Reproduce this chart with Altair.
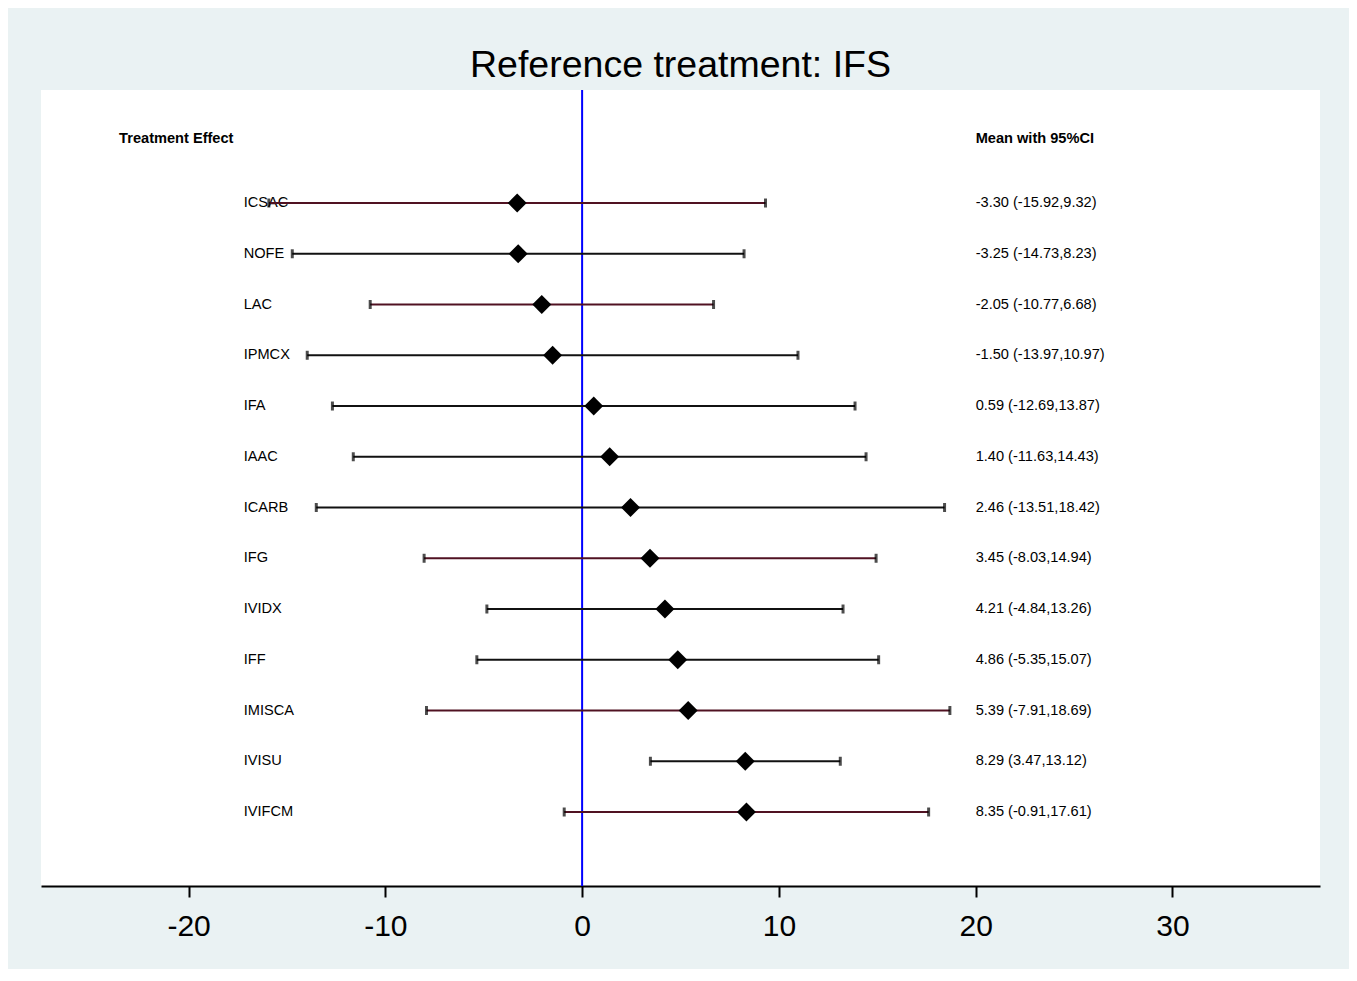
import altair as alt
import pandas as pd

names = ["ICSAC", "NOFE", "LAC", "IPMCX", "IFA", "IAAC", "ICARB",
         "IFG", "IVIDX", "IFF", "IMISCA", "IVISU", "IVIFCM"]
means = [-3.30, -3.25, -2.05, -1.50, 0.59, 1.40, 2.46, 3.45, 4.21, 4.86, 5.39, 8.29, 8.35]
lows = [-15.92, -14.73, -10.77, -13.97, -12.69, -11.63, -13.51, -8.03, -4.84, -5.35, -7.91, 3.47, -0.91]
highs = [9.32, 8.23, 6.68, 10.97, 13.87, 14.43, 18.42, 14.94, 13.26, 15.07, 18.69, 13.12, 17.61]
line_group = ["a", "b", "a", "b", "b", "b", "b", "a", "b", "b", "a", "b", "a"]
x_ticks = [-20, -10, 0, 10, 20, 30]
ref_value = [0]

FONT = "Liberation Sans"
TXT = 14.6

df = pd.DataFrame({
    "name": names,
    "mean": means,
    "lo": lows,
    "hi": highs,
    "grp": line_group,
    "row": list(range(1, len(names) + 1)),
})
df["label"] = [f"{m:.2f} ({l:.2f},{h:.2f})" for m, l, h in zip(means, lows, highs)]

xs = alt.Scale(domain=[-27.5, 37.5], nice=False, zero=False)
ys = alt.Scale(domain=[14.458, -1.227], nice=False, zero=False)
xaxis = alt.Axis(values=x_ticks, title=None, grid=False,
                 labelExpr="'' + datum.value")


def X(field):
    return alt.X(field, scale=xs, axis=xaxis)


def Y(field):
    return alt.Y(field, scale=ys, axis=None)


base = alt.Chart(df)

zero_line = alt.Chart(pd.DataFrame({"z": ref_value})).mark_rule(
    color="#0000ff", strokeWidth=2).encode(x=X("z:Q"))

name_text = base.mark_text(align="left", baseline="middle", fontSize=TXT,
                           font=FONT, color="black").encode(
    x=X("nx:Q"), y=Y("row:Q"), text="name:N"
).transform_calculate(nx="-17.2")
val_text = base.mark_text(align="left", baseline="middle", fontSize=TXT,
                          font=FONT, color="black").encode(
    x=X("vx:Q"), y=Y("row:Q"), text="label:N"
).transform_calculate(vx="20.0")

hdr = pd.DataFrame({"t": ["Treatment Effect", "Mean with 95%CI"]})
hdr_text = alt.Chart(hdr).mark_text(
    align="left", baseline="middle", fontSize=TXT, fontWeight="bold",
    font=FONT, color="black").encode(
    x=X("hx:Q"), y=Y("hy:Q"), text="t:N"
).transform_calculate(
    hx="datum.t == 'Treatment Effect' ? -23.53 : 20.0", hy="-0.26")

bars_a = base.mark_rule(strokeWidth=2.2, color="#501222").encode(
    x=X("lo:Q"), x2="hi:Q", y=Y("row:Q")
).transform_filter("datum.grp == 'a'")
bars_b = base.mark_rule(strokeWidth=2.2, color="#111111").encode(
    x=X("lo:Q"), x2="hi:Q", y=Y("row:Q")
).transform_filter("datum.grp == 'b'")

cap_lo = base.mark_tick(orient="vertical", size=9, thickness=3, color="black").encode(
    x=X("lo:Q"), y=Y("row:Q"))
cap_hi = base.mark_tick(orient="vertical", size=9, thickness=3, color="black").encode(
    x=X("hi:Q"), y=Y("row:Q"))

pts = base.mark_point(shape="diamond", size=360, filled=True, opacity=1,
                      color="black").encode(x=X("mean:Q"), y=Y("row:Q"))

chart = alt.layer(zero_line, name_text, val_text, hdr_text, bars_a, bars_b,
                  cap_lo, cap_hi, pts).properties(
    width=1279, height=796,
    padding={"left": 33, "top": 38, "right": 29, "bottom": 28},
    title="Reference treatment: IFS",
).configure(background="#EAF2F3").configure_view(
    fill="white", strokeWidth=0
).configure_title(
    fontSize=37.5, font=FONT, fontWeight="normal", color="black",
    anchor="middle", offset=5
).configure_axis(
    domainColor="black", domainWidth=2, tickColor="black", tickWidth=2,
    tickSize=11, labelFontSize=30, labelFont=FONT, labelColor="black",
    labelPadding=14
)

chart.save("out.html", embed_options={"renderer": "svg", "actions": False})
